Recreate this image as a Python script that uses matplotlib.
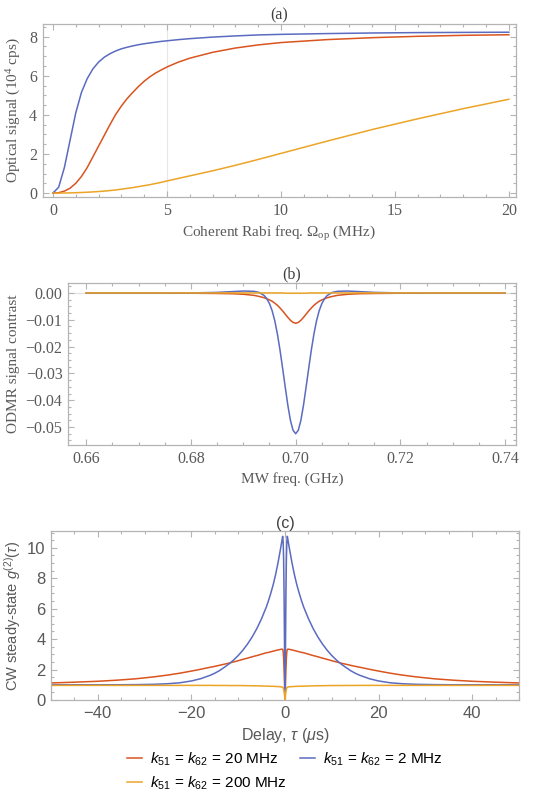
import numpy as np
import matplotlib.pyplot as plt
from matplotlib.ticker import MultipleLocator
from matplotlib.lines import Line2D

plt.rcParams['mathtext.fontset'] = 'custom'
plt.rcParams['mathtext.rm'] = 'Liberation Serif'
plt.rcParams['mathtext.it'] = 'Liberation Sans:italic'
plt.rcParams['mathtext.sf'] = 'Liberation Sans'

RED = '#D9541E'
BLUE = '#5B6BC0'
YEL = '#ECA427'
FRAME = '#b4b4b4'
TXT = '#595959'

# (a) optical signal vs coherent Rabi freq
rabi = [0, 0.25, 0.5, 0.75, 1, 1.25, 1.5, 1.75, 2, 2.25, 2.5, 2.75, 3, 3.25, 3.5, 3.75, 4, 4.25,
        4.5, 4.75, 5, 5.5, 6, 7, 8, 9, 10, 12, 14, 16, 18, 20]
sig_20 = [0, 0.02, 0.1, 0.25, 0.5, 0.85, 1.3, 1.85, 2.4, 2.95, 3.5, 4.02, 4.45, 4.83, 5.15, 5.45,
          5.72, 5.95, 6.14, 6.3, 6.45, 6.7, 6.9, 7.2, 7.42, 7.58, 7.7, 7.85, 7.95, 8.02, 8.07, 8.1]
sig_2 = [0, 0.3, 1.3, 2.7, 4.1, 5.15, 5.85, 6.35, 6.7, 6.95, 7.13, 7.27, 7.38, 7.46, 7.53, 7.59,
         7.64, 7.68, 7.72, 7.76, 7.79, 7.85, 7.9, 7.98, 8.04, 8.09, 8.12, 8.16, 8.19, 8.21, 8.22, 8.23]
sig_200 = [0, 0, 0.005, 0.01, 0.02, 0.03, 0.045, 0.06, 0.08, 0.1, 0.13, 0.16, 0.2, 0.24, 0.28, 0.33,
           0.38, 0.43, 0.49, 0.55, 0.62, 0.75, 0.88, 1.14, 1.42, 1.72, 2.03, 2.65, 3.25, 3.8, 4.32, 4.8]

# (b) ODMR contrast, offsets from 0.70 GHz (curves symmetric)
df = [0, 0.0005, 0.001, 0.0015, 0.002, 0.0025, 0.003, 0.0035, 0.004, 0.0045, 0.005, 0.0055,
      0.006, 0.007, 0.008, 0.010, 0.012, 0.015, 0.020, 0.040]
odmr_20 = [-0.0113, -0.0110, -0.0102, -0.0091, -0.0079, -0.0067, -0.0056, -0.0046, -0.0038, -0.0031,
           -0.0026, -0.0022, -0.0018, -0.0013, -0.0009, -0.0005, -0.0003, -0.0002, -0.0001, 0.0]
odmr_2 = [-0.0525, -0.0512, -0.0475, -0.0418, -0.0350, -0.0280, -0.0212, -0.0152, -0.0103, -0.0066,
          -0.0040, -0.0022, -0.0010, 0.0002, 0.0006, 0.0007, 0.0005, 0.0002, 0.0, 0.0]
odmr_200 = [-0.0001, -0.0001, -0.0001, -0.0001, -0.0001, 0, 0, 0, 0, 0,
            0, 0, 0, 0, 0, 0, 0, 0, 0, 0]

# (c) g2 vs delay (tau >= 0, mirrored)
tau = [0, 0.1, 0.2, 0.3, 0.4, 0.5, 0.75, 1, 1.5, 2, 2.5, 3, 3.5, 4, 5, 6, 7, 8, 9, 10, 11, 12, 13,
       14, 15, 16, 18, 20, 22.5, 25, 28, 32, 36, 40, 45, 50]
g2_20 = [0, 1.0, 2.0, 2.8, 3.2, 3.33, 3.34, 3.32, 3.29, 3.25, 3.21, 3.17, 3.13, 3.1, 3.01, 2.92, 2.84,
         2.75, 2.67, 2.58, 2.5, 2.42, 2.35, 2.28, 2.21, 2.15, 2.02, 1.9, 1.76, 1.64, 1.52, 1.39, 1.3,
         1.23, 1.17, 1.12]
g2_2 = [0, 3.5, 7.0, 9.3, 10.4, 10.75, 10.3, 9.85, 9.0, 8.25, 7.6, 7.05, 6.55, 6.1, 5.35, 4.7, 4.15,
        3.68, 3.27, 2.92, 2.62, 2.36, 2.14, 1.93, 1.76, 1.62, 1.4, 1.25, 1.13, 1.07, 1.03, 1.01, 1.0,
        1.0, 1.0, 1.0]
g2_200 = [0, 0.3, 0.55, 0.72, 0.8, 0.84, 0.86, 0.87, 0.88, 0.89, 0.9, 0.9, 0.91, 0.91, 0.92, 0.93,
          0.935, 0.94, 0.945, 0.95, 0.95, 0.95, 0.955, 0.955, 0.955, 0.96, 0.96, 0.96, 0.96, 0.96,
          0.96, 0.96, 0.96, 0.96, 0.96, 0.96]


def mirror(x, y, x0=0.0):
    x = np.asarray(x); y = np.asarray(y)
    return np.concatenate([x0 - x[::-1], x0 + x[1:]]), np.concatenate([y[::-1], y[1:]])


def frame_style(ax, family, size, xmaj, xmin, ymaj, ymin):
    for s in ax.spines.values():
        s.set_color(FRAME)
        s.set_linewidth(0.9)
    ax.xaxis.set_major_locator(MultipleLocator(xmaj))
    ax.xaxis.set_minor_locator(MultipleLocator(xmin))
    ax.yaxis.set_major_locator(MultipleLocator(ymaj))
    ax.yaxis.set_minor_locator(MultipleLocator(ymin))
    ax.tick_params(which='both', direction='in', top=True, right=True, color=FRAME, width=0.8)
    ax.tick_params(which='major', length=4.5, labelsize=size, labelcolor=TXT, pad=4)
    ax.tick_params(which='minor', length=2.5)


def fonts(ax, family):
    for lab in ax.get_xticklabels() + ax.get_yticklabels():
        lab.set_family(family)


fig = plt.figure(figsize=(5.43, 7.93), dpi=100)

# ---- (a)
ax = fig.add_axes([42.7 / 543, 1 - 197 / 793, 473 / 543, 173 / 793])
ax.axvline(5, color='#e8e8e8', lw=0.9, zorder=0)
ax.plot(rabi, sig_20, color=RED, lw=1.1)
ax.plot(rabi, sig_2, color=BLUE, lw=1.1)
ax.plot(rabi, sig_200, color=YEL, lw=1.1)
ax.set_xlim(-0.45, 20.3)
ax.set_ylim(-0.2, 8.65)
frame_style(ax, 'Liberation Serif', 11.5, 5, 1, 2, 0.5)
ax.set_yticks([0, 2, 4, 6, 8])
ax.set_xticks([0, 5, 10, 15, 20])
fonts(ax, 'Liberation Serif')
ax.set_title('(a)', family='Liberation Serif', fontsize=11.5, color='#404040', pad=3)
ax.set_xlabel(r'Coherent Rabi freq. $\Omega_{\mathrm{op}}$ (MHz)', family='Liberation Serif',
              fontsize=11, color=TXT, labelpad=4)
ax.set_ylabel(r'Optical signal (10$^{\mathrm{4}}$ cps)', family='Liberation Serif',
              fontsize=11, color=TXT, labelpad=5)

# ---- (b)
bx = fig.add_axes([68 / 543, 1 - 445 / 793, 448 / 543, 162 / 793])
bx.axhline(0, color='#e0e0e0', lw=0.9, zorder=0)
for vals, c in [(odmr_20, RED), (odmr_2, BLUE), (odmr_200, YEL)]:
    xx, yy = mirror(df, vals, 0.70)
    bx.plot(xx, yy, color=c, lw=1.1)
bx.set_xlim(0.6565, 0.7421)
bx.set_ylim(-0.0567, 0.0037)
frame_style(bx, 'Liberation Serif', 11.5, 0.02, 0.005, 0.01, 0.0025)
bx.set_xticks([0.66, 0.68, 0.70, 0.72, 0.74])
bx.set_xticklabels(['0.66', '0.68', '0.70', '0.72', '0.74'])
bx.set_yticks([0, -0.01, -0.02, -0.03, -0.04, -0.05])
bx.set_yticklabels(['0.00', '\u22120.01', '\u22120.02', '\u22120.03', '\u22120.04', '\u22120.05'])
fonts(bx, 'Liberation Serif')
bx.set_title('(b)', family='Liberation Serif', fontsize=11.5, color='#404040', pad=3)
bx.set_xlabel('MW freq. (GHz)', family='Liberation Serif', fontsize=11, color=TXT, labelpad=4)
bx.set_ylabel('ODMR signal contrast', family='Liberation Serif', fontsize=11, color=TXT, labelpad=4)

# ---- (c)
cx = fig.add_axes([51 / 543, 1 - 700 / 793, 468 / 543, 169 / 793])
cx.axvline(0, color='#dcdcdc', lw=0.9, zorder=0)
for vals, c in [(g2_20, RED), (g2_2, BLUE), (g2_200, YEL)]:
    xx, yy = mirror(tau, vals)
    cx.plot(xx, yy, color=c, lw=1.1)
cx.set_xlim(-50, 50)
cx.set_ylim(0, 11.1)
frame_style(cx, 'Liberation Sans', 12, 20, 5, 2, 0.5)
cx.set_xticks([-40, -20, 0, 20, 40])
cx.set_xticklabels(['\u221240', '\u221220', '0', '20', '40'])
fonts(cx, 'Liberation Sans')
cx.set_title('(c)', family='Liberation Sans', fontsize=11.5, color='#404040', pad=2)
cx.set_xlabel(r'Delay, $\tau$ ($\mu$s)', family='Liberation Sans', fontsize=11.5, color=TXT, labelpad=4)
cx.set_ylabel(r'CW steady-state $g^{\mathsf{(2)}}$($\tau$)', family='Liberation Sans',
              fontsize=10.5, color=TXT, labelpad=3)

labels = [r'$k_{\mathsf{51}}$ = $k_{\mathsf{62}}$ = 20 MHz',
          r'$k_{\mathsf{51}}$ = $k_{\mathsf{62}}$ = 200 MHz',
          r'$k_{\mathsf{51}}$ = $k_{\mathsf{62}}$ = 2 MHz']
handles = [Line2D([], [], color=RED, lw=1.1), Line2D([], [], color=YEL, lw=1.1),
           Line2D([], [], color=BLUE, lw=1.1)]
fig.legend(handles, labels, ncol=2, loc='upper left', bbox_to_anchor=(119 / 543, 1 - 743 / 793),
           frameon=False, borderpad=0, handlelength=1.0, handletextpad=0.5, columnspacing=0.9,
           labelspacing=0.4, prop={'family': 'Liberation Sans', 'size': 11})

fig.savefig('out.png', dpi=100)
